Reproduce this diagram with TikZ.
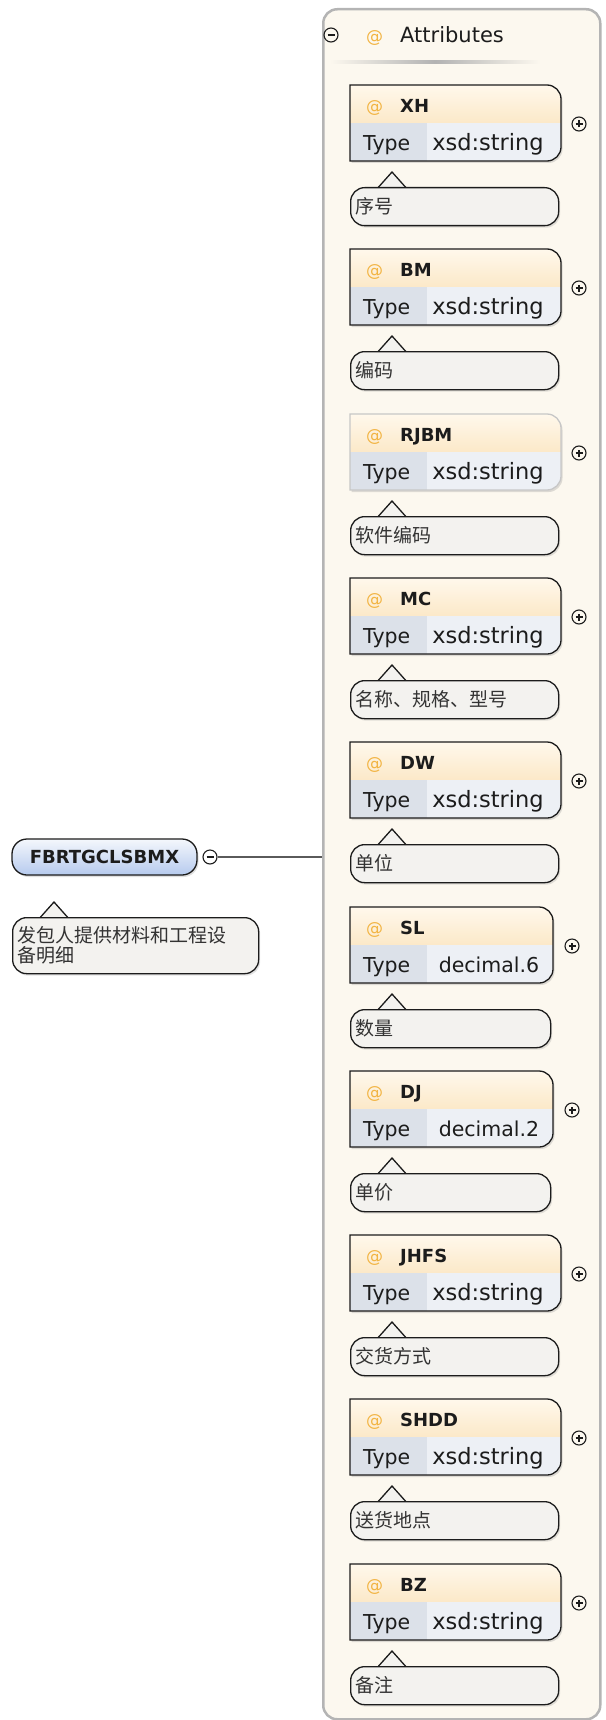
\documentclass[tikz,border=0pt]{standalone}
\usepackage{fontspec}
\setmainfont{DejaVu Sans}
\newfontfamily\cjk{Noto Sans CJK SC}
\usetikzlibrary{shadows}
\definecolor{ink}{HTML}{1C1C1C}
\definecolor{panelfill}{HTML}{FCF8EF}
\definecolor{panelrim}{HTML}{B4B4B4}
\definecolor{hdrtop}{HTML}{FFF8EC}
\definecolor{hdrbot}{HTML}{F8D9A4}
\definecolor{typefill}{HTML}{DCE1E9}
\definecolor{valfill}{HTML}{EDF0F5}
\definecolor{notefill}{HTML}{F3F2EF}
\definecolor{atsign}{HTML}{F2B443}
\definecolor{pilltop}{HTML}{F4F7FC}
\definecolor{pillbot}{HTML}{B6CAEE}
\definecolor{wirec}{HTML}{5A5A5A}

\begin{document}
\begin{tikzpicture}[
 x=1pt,y=-1pt,text=ink,
 panel/.style={anchor=north west,draw=panelrim,line width=2.5pt,fill=panelfill,rounded corners=14pt,minimum width=277pt,minimum height=1710pt,inner sep=0pt},
 attbox/.style={draw=ink,line width=1.3pt,drop shadow={opacity=.25,shadow xshift=1.5pt,shadow yshift=-2pt},
  path picture={\shade[top color=hdrtop,bottom color=hdrbot] (path picture bounding box.north west) rectangle (path picture bounding box.east);
   \fill[typefill] (path picture bounding box.west) rectangle ([xshift=77pt]path picture bounding box.south west);
   \fill[valfill] ([xshift=77pt]path picture bounding box.west) rectangle (path picture bounding box.south east);}},
 attname/.style={anchor=base west,inner sep=0pt,font=\bfseries\fontsize{18}{20}\selectfont,
  execute at begin node={\makebox[34pt][l]{\mdseries\fontsize{17}{17}\selectfont\color{atsign}@}}},
 typelab/.style={anchor=base west,inner sep=0pt,font=\fontsize{20.5}{24}\selectfont},
 vallab/.style={anchor=base,inner sep=0pt,font=\fontsize{22.5}{24}\selectfont},
 plus/.style={circle,draw=ink,line width=1.1pt,minimum size=14pt,inner sep=0pt,
  path picture={\draw[line width=1.1pt] ([xshift=-3.5pt]path picture bounding box.center) -- ([xshift=3.5pt]path picture bounding box.center)
   ([yshift=-3.5pt]path picture bounding box.center) -- ([yshift=3.5pt]path picture bounding box.center);}},
 minus/.style={circle,draw=ink,line width=1.1pt,minimum size=14pt,inner sep=0pt,
  path picture={\draw[line width=1.1pt] ([xshift=-3.5pt]path picture bounding box.center) -- ([xshift=3.5pt]path picture bounding box.center);}},
 note/.style={anchor=north west,draw=ink,line width=1.3pt,fill=notefill,rounded corners=14pt,minimum height=38pt,text width=198pt,
  inner xsep=5pt,inner ysep=0pt,align=left,text=black!80,font=\cjk\fontsize{19}{20}\selectfont,
  drop shadow={opacity=.22,shadow xshift=1.5pt,shadow yshift=-2pt},
  append after command={\pgfextra{\draw[draw=ink,line width=1.3pt,fill=notefill,sharp corners]
   ([xshift=28pt,yshift=-.7pt]\tikzlastnode.north west) -- ([xshift=42pt,yshift=15pt]\tikzlastnode.north west) -- ([xshift=56pt,yshift=-.7pt]\tikzlastnode.north west);}}},
 root/.style={draw=ink,line width=1.3pt,rounded corners=15pt,top color=pilltop,bottom color=pillbot,minimum width=185pt,minimum height=36pt,
  font=\bfseries\fontsize{18}{20}\selectfont,drop shadow={opacity=.25,shadow xshift=1.5pt,shadow yshift=-2pt}},
 wire/.style={draw=wirec,line width=2.5pt}
]
\useasboundingbox (0,0) rectangle (605,1720);
\node[panel] (att) at (322,8) {};
\node[minus] (attm) at (331,35) {};
\node[attname,font=\fontsize{21}{24}\selectfont] (atthead) at (366,43) {Attributes};
\shade[left color=panelfill,right color=panelfill,middle color=black!30] (330,61) rectangle (540,63.5);

\node[root] (fbr) at (104.5,857) {FBRTGCLSBMX};
\node[minus] (fbrm) at (210,857) {};
\draw[wire] (fbrm.east) -- (fbrm.east -| att.west);
\node[note,text width=236pt,minimum height=56pt] (fbrdoc) at (12,917) {发包人提供材料和工程设\\备明细};

\draw[attbox] (350,85) -- (547,85) .. controls (554.7,85) and (561,91.3) .. (561,99) -- (561,147) .. controls (561,154.7) and (554.7,161) .. (547,161) -- (350,161) -- cycle;
\node[attname] (xhnm) at (366,112.5) {XH};
\node[typelab] (xhty) at (363,150.5) {Type};
\node[vallab] (xhv) at (488,150.5) {xsd:string};
\node[plus] (xhp) at (579,124) {};
\node[note] (xhdoc) at (350,187) {序号};

\draw[attbox] (350,249) -- (547,249) .. controls (554.7,249) and (561,255.3) .. (561,263) -- (561,311) .. controls (561,318.7) and (554.7,325) .. (547,325) -- (350,325) -- cycle;
\node[attname] (bmnm) at (366,276.5) {BM};
\node[typelab] (bmty) at (363,314.5) {Type};
\node[vallab] (bmv) at (488,314.5) {xsd:string};
\node[plus] (bmp) at (579,288) {};
\node[note] (bmdoc) at (350,351) {编码};

\draw[attbox,draw=black!22] (350,414) -- (547,414) .. controls (554.7,414) and (561,420.3) .. (561,428) -- (561,476) .. controls (561,483.7) and (554.7,490) .. (547,490) -- (350,490) -- cycle;
\node[attname] (rjbmnm) at (366,441.5) {RJBM};
\node[typelab] (rjbmty) at (363,479.5) {Type};
\node[vallab] (rjbmv) at (488,479.5) {xsd:string};
\node[plus] (rjbmp) at (579,453) {};
\node[note] (rjbmdoc) at (350,516) {软件编码};

\draw[attbox] (350,578) -- (547,578) .. controls (554.7,578) and (561,584.3) .. (561,592) -- (561,640) .. controls (561,647.7) and (554.7,654) .. (547,654) -- (350,654) -- cycle;
\node[attname] (mcnm) at (366,605.5) {MC};
\node[typelab] (mcty) at (363,643.5) {Type};
\node[vallab] (mcv) at (488,643.5) {xsd:string};
\node[plus] (mcp) at (579,617) {};
\node[note] (mcdoc) at (350,680) {名称、规格、型号};

\draw[attbox] (350,742) -- (547,742) .. controls (554.7,742) and (561,748.3) .. (561,756) -- (561,804) .. controls (561,811.7) and (554.7,818) .. (547,818) -- (350,818) -- cycle;
\node[attname] (dwnm) at (366,769.5) {DW};
\node[typelab] (dwty) at (363,807.5) {Type};
\node[vallab] (dwv) at (488,807.5) {xsd:string};
\node[plus] (dwp) at (579,781) {};
\node[note] (dwdoc) at (350,844) {单位};

\draw[attbox] (350,907) -- (539,907) .. controls (546.7,907) and (553,913.3) .. (553,921) -- (553,969) .. controls (553,976.7) and (546.7,983) .. (539,983) -- (350,983) -- cycle;
\node[attname] (slnm) at (366,934.5) {SL};
\node[typelab] (slty) at (363,972.5) {Type};
\node[vallab,font=\fontsize{20.5}{24}\selectfont] (slv) at (489,972.5) {decimal.6};
\node[plus] (slp) at (572,946) {};
\node[note,text width=190pt] (sldoc) at (350,1009) {数量};

\draw[attbox] (350,1071) -- (539,1071) .. controls (546.7,1071) and (553,1077.3) .. (553,1085) -- (553,1133) .. controls (553,1140.7) and (546.7,1147) .. (539,1147) -- (350,1147) -- cycle;
\node[attname] (djnm) at (366,1098.5) {DJ};
\node[typelab] (djty) at (363,1136.5) {Type};
\node[vallab,font=\fontsize{20.5}{24}\selectfont] (djv) at (489,1136.5) {decimal.2};
\node[plus] (djp) at (572,1110) {};
\node[note,text width=190pt] (djdoc) at (350,1173) {单价};

\draw[attbox] (350,1235) -- (547,1235) .. controls (554.7,1235) and (561,1241.3) .. (561,1249) -- (561,1297) .. controls (561,1304.7) and (554.7,1311) .. (547,1311) -- (350,1311) -- cycle;
\node[attname] (jhfsnm) at (366,1262.5) {JHFS};
\node[typelab] (jhfsty) at (363,1300.5) {Type};
\node[vallab] (jhfsv) at (488,1300.5) {xsd:string};
\node[plus] (jhfsp) at (579,1274) {};
\node[note] (jhfsdoc) at (350,1337) {交货方式};

\draw[attbox] (350,1399) -- (547,1399) .. controls (554.7,1399) and (561,1405.3) .. (561,1413) -- (561,1461) .. controls (561,1468.7) and (554.7,1475) .. (547,1475) -- (350,1475) -- cycle;
\node[attname] (shddnm) at (366,1426.5) {SHDD};
\node[typelab] (shddty) at (363,1464.5) {Type};
\node[vallab] (shddv) at (488,1464.5) {xsd:string};
\node[plus] (shddp) at (579,1438) {};
\node[note] (shdddoc) at (350,1501) {送货地点};

\draw[attbox] (350,1564) -- (547,1564) .. controls (554.7,1564) and (561,1570.3) .. (561,1578) -- (561,1626) .. controls (561,1633.7) and (554.7,1640) .. (547,1640) -- (350,1640) -- cycle;
\node[attname] (bznm) at (366,1591.5) {BZ};
\node[typelab] (bzty) at (363,1629.5) {Type};
\node[vallab] (bzv) at (488,1629.5) {xsd:string};
\node[plus] (bzp) at (579,1603) {};
\node[note] (bzdoc) at (350,1666) {备注};
\end{tikzpicture}
\end{document}
